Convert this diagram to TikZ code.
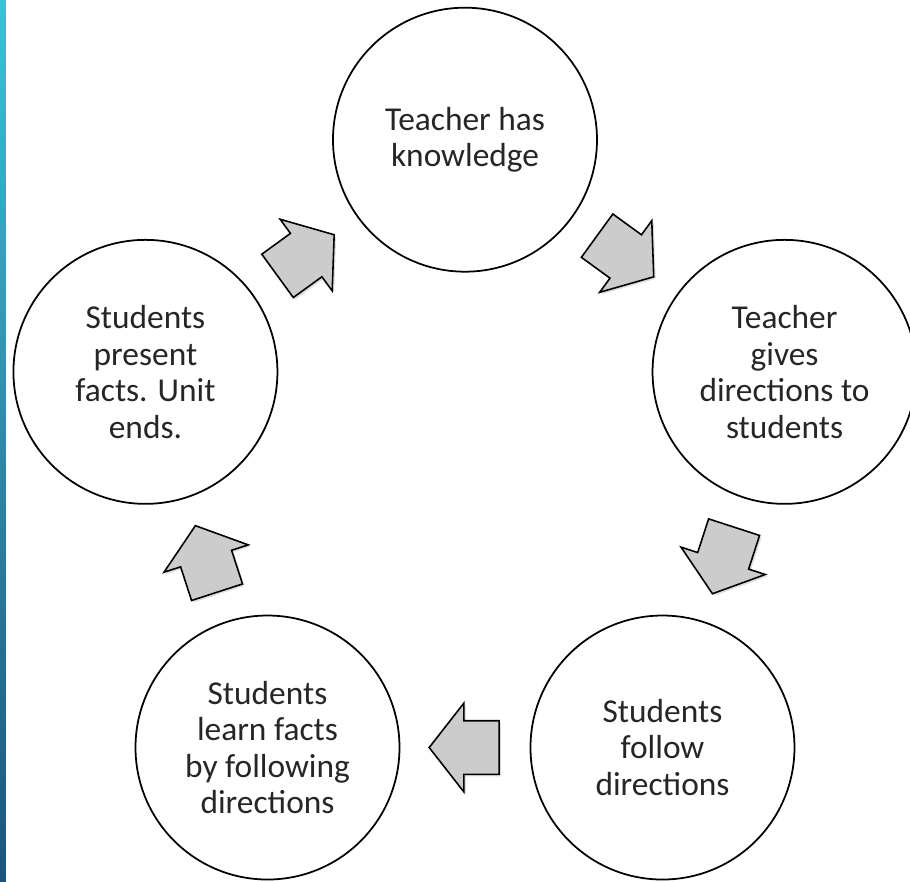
\documentclass[tikz,border=0pt]{standalone}
\usepackage{fontspec}
\setmainfont{Carlito}
\usetikzlibrary{shapes.arrows,calc,shadows}

\definecolor{stripetop}{RGB}{66,190,215}
\definecolor{stripebot}{RGB}{28,84,124}

\begin{document}
\begin{tikzpicture}[every node/.style={circle,draw,line width=1pt,fill=white,minimum size=5.28cm,align=center,text=black!85,font=\fontsize{19}{20.8}\selectfont},
  freccia/.style={single arrow,draw,line width=0.9pt,fill=black!20,minimum size=0pt,minimum height=1.4cm,inner xsep=0pt,inner ysep=0.52cm,single arrow head extend=0.35cm,single arrow tip angle=104,anchor=tail,drop shadow={shadow xshift=0.04cm,shadow yshift=-0.04cm,opacity=0.25}}]

\useasboundingbox (-9.3,-8.126) rectangle (8.9,9.514);
\fill[white] (-9.3,-8.126) rectangle (8.9,9.514);
\shade[top color=stripetop,bottom color=stripebot] (-9.3,-8.126) rectangle (-9.18,9.514); % striscia blu

% Cerchi
\node (know) at (90:6.72) {Teacher has\\knowledge};
\node (give) at (18:6.72) {Teacher\\gives\\directions to\\students};
\node (follow) at (-54:6.72) {Students\\follow\\directions};
\node (learn) at (-126:6.72) {Students\\learn facts\\by following\\directions};
\node (present) at (162:6.72) {Students\\present\\facts. Unit\\ends.};

% Frecce (coda a meta' strada meno 0.7cm)
\node[freccia, rotate=-36] (f1) at ($(know)!3.25cm!(give)$) {};
\node[freccia, rotate=-108] (f2) at ($(give)!3.25cm!(follow)$) {};
\node[freccia, rotate=180] (f3) at ($(follow)!3.25cm!(learn)$) {};
\node[freccia, rotate=108] (f4) at ($(learn)!3.25cm!(present)$) {};
\node[freccia, rotate=36] (f5) at ($(present)!3.25cm!(know)$) {};
\end{tikzpicture}
\end{document}
